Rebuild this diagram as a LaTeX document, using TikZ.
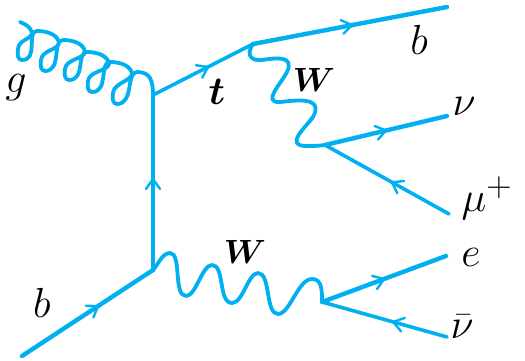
\documentclass[tikz,border=0pt]{standalone}
\usetikzlibrary{decorations.markings}
\definecolor{fermion}{HTML}{00B0F0}
\newcommand{\biglabel}[1]{\scalebox{1.69}{\Huge #1}}
\newcommand{\boldlabel}[2][1.35]{\scalebox{#1}{\Huge\boldmath #2}}
\tikzset{
  x=1pt,y=-1pt,
  line/.style={draw=fermion,line width=4.4pt,line cap=round,line join=round},
  thinline/.style={line,line width=3.6pt},
  boson/.style={draw=fermion,line width=3.8pt,line cap=round,line join=round},
  arrowat/.style={postaction={decorate},decoration={markings,mark=at position #1 with {\draw[draw=fermion,line width=2.4pt,line cap=round,line join=round] (-10pt,-7pt) .. controls (-5pt,-3pt) .. (0,0) .. controls (-5pt,3pt) .. (-10pt,7pt);}}},
  lab/.style={inner sep=0pt,text=black}
}
\begin{document}
\begin{tikzpicture}
\useasboundingbox (0,0) rectangle (525,361);
\coordinate (gs) at (20,22);
\coordinate (v1) at (153,95);
\coordinate (v2) at (153,270);
\coordinate (v3) at (253,44);
\coordinate (v4) at (325,145);
\coordinate (v5) at (322,302);
\coordinate (bin) at (22,356);
\coordinate (bout) at (447,7);
\coordinate (nu) at (447,116);
\coordinate (mu) at (449,214);
\coordinate (el) at (446,256);
\coordinate (nb) at (447,337);
% fermion lines
\path[line,arrowat=0.58] (bin) -- (v2);
\path[line,arrowat=0.52] (v2) -- (v1);
\path[thinline,arrowat=0.55] (v1) -- (v3);
\path[line,arrowat=0.51] (v3) -- (bout);
\path[line,arrowat=0.5] (v4) -- (nu);
\path[thinline,arrowat=0.46] (mu) -- (v4);
\path[line,arrowat=0.5] (v5) -- (el);
\path[thinline,arrowat=0.43] (nb) -- (v5);
% gluon
\draw[boson] (gs) .. controls (25,24) and (31,27) .. (32,33)
  .. controls (31,40) and (19,39) .. (18,49)
  .. controls (17,55) and (18,60) .. (22,60)
  .. controls (39,60) and (26,31) .. (37,31)
  .. controls (48,31) and (58,35) .. (59,43)
  .. controls (58,50) and (42,50) .. (41,60)
  .. controls (40,66) and (41,71) .. (45,71)
  .. controls (62,71) and (52,40) .. (63,40)
  .. controls (74,40) and (84,44) .. (85,52)
  .. controls (84,59) and (66,59) .. (65,69)
  .. controls (64,75) and (65,80) .. (69,80)
  .. controls (86,80) and (76,52) .. (87,52)
  .. controls (98,52) and (108,56) .. (109,64)
  .. controls (108,71) and (89,71) .. (88,81)
  .. controls (87,87) and (88,92) .. (92,92)
  .. controls (109,92) and (99,62) .. (110,62)
  .. controls (121,62) and (131,66) .. (132,74)
  .. controls (131,81) and (114,83) .. (113,93)
  .. controls (112,99) and (113,104) .. (117,104)
  .. controls (134,104) and (126,72) .. (137,72)
  .. controls (150,72) and (153,80) .. (v1);
% W bosons
\draw[boson] (v3) .. controls (245,56) and (252,61) .. (262,60)
  .. controls (275,58) and (295,55) .. (287,72)
  .. controls (280,85) and (262,103) .. (280,102)
  .. controls (292,101) and (325,95) .. (313,117)
  .. controls (305,128) and (285,145) .. (305,146)
  .. controls (312,146) and (318,146) .. (v4);
\draw[boson] (v2) .. controls (158,265) and (162,253) .. (170,253)
  .. controls (182,253) and (173,296) .. (186,296)
  .. controls (196,296) and (202,265) .. (212,265)
  .. controls (225,265) and (218,303) .. (232,303)
  .. controls (243,303) and (248,273) .. (258,273)
  .. controls (271,273) and (265,314) .. (278,314)
  .. controls (290,314) and (298,279) .. (312,279)
  .. controls (322,279) and (322,290) .. (v5);
% labels
\node[lab] (lg) at (16,88) {\biglabel{$g$}};
\node[lab] (lt) at (217,92) {\boldlabel[1.6]{$t$}};
\node[lab] (lb1) at (419,40) {\biglabel{$b$}};
\node[lab] (lw1) at (314,80) {\boldlabel{$W$}};
\node[lab] (lnu) at (464,106) {\biglabel{$\nu$}};
\node[lab] (lmu) at (487,198) {\biglabel{$\mu^{+}$}};
\node[lab] (lw2) at (245,252) {\boldlabel{$W$}};
\node[lab] (le) at (471,257) {\biglabel{$e$}};
\node[lab] (lnb) at (462,327) {\biglabel{$\bar{\nu}$}};
\node[lab] (lb2) at (42,303) {\biglabel{$b$}};
\end{tikzpicture}
\end{document}
